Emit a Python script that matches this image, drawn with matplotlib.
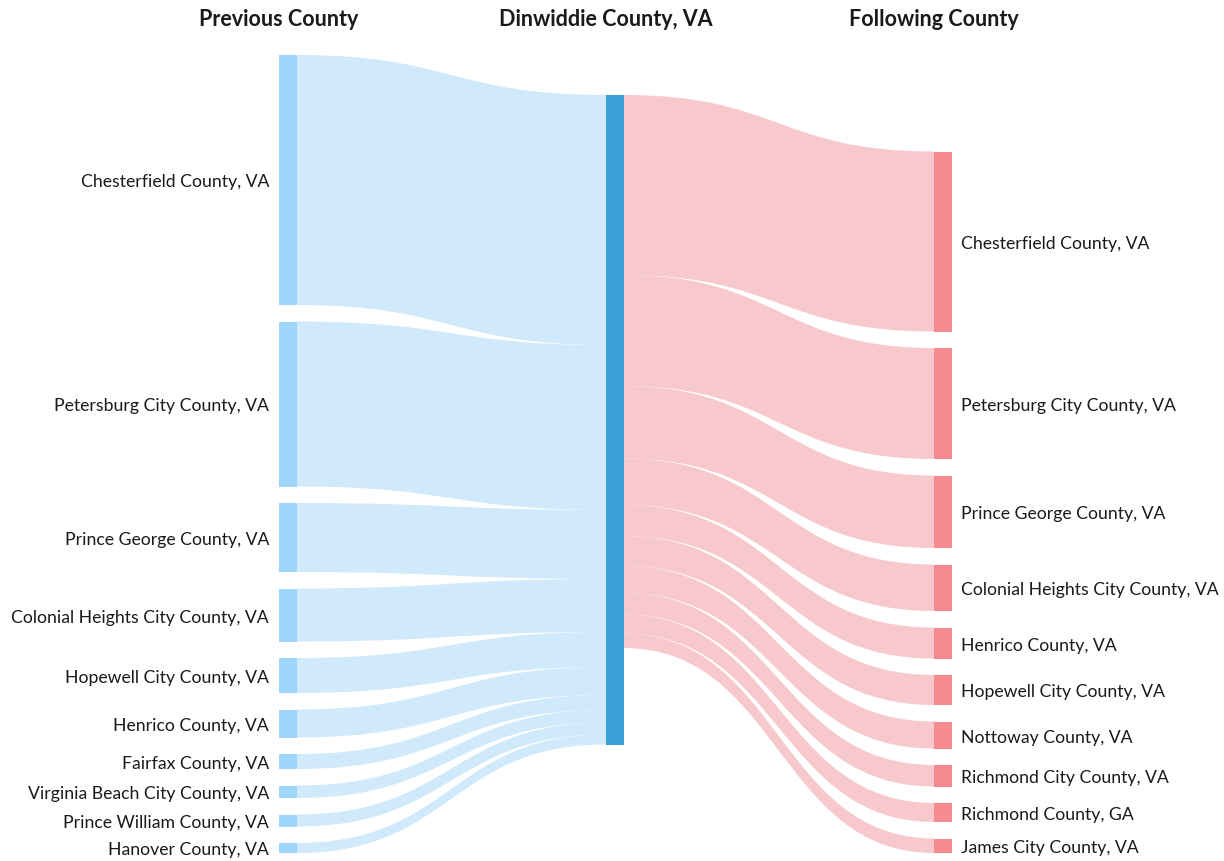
import matplotlib
matplotlib.use("Agg")
import matplotlib.pyplot as plt
from matplotlib.path import Path
from matplotlib.patches import PathPatch, Rectangle

# ---------------- data ----------------
titles = ["Previous County", "Dinwiddie County, VA", "Following County"]
prev_counties = ["Chesterfield County, VA", "Petersburg City County, VA",
                 "Prince George County, VA", "Colonial Heights City County, VA",
                 "Hopewell City County, VA", "Henrico County, VA",
                 "Fairfax County, VA", "Virginia Beach City County, VA",
                 "Prince William County, VA", "Hanover County, VA"]
prev_values = [250, 165, 69, 53, 35, 28, 15, 12.5, 12, 10]

next_counties = ["Chesterfield County, VA", "Petersburg City County, VA",
                 "Prince George County, VA", "Colonial Heights City County, VA",
                 "Henrico County, VA", "Hopewell City County, VA",
                 "Nottoway County, VA", "Richmond City County, VA",
                 "Richmond County, GA", "James City County, VA"]
next_values = [180, 111, 72.5, 46.5, 31, 30, 27, 21.5, 19, 14.5]

# ---------------- style / layout ----------------
W, H = 1224, 861
plt.rcParams['font.family'] = ['Lato', 'DejaVu Sans']
col_left_node = "#9ed5fb"
col_left_flow = "#d1eafb"
col_center = "#3a9fd4"
col_right_flow = "#f7c9cc"
col_right_node = "#f58b90"

x_left, x_center, x_right = 279, 606, 934
node_w = 17.5
y_top, y_bot = 55, 853
pad = 16.5
center_top = 95
k = 1.0  # px per unit

fig = plt.figure(figsize=(W / 100, H / 100), dpi=100)
ax = fig.add_axes([0, 0, 1, 1])
ax.set_xlim(0, W)
ax.set_ylim(H, 0)
ax.axis("off")


def band(x0, a0, a1, x1, b0, b1, color):
    xm = (x0 + x1) / 2
    verts = [(x0, a0), (xm, a0), (xm, b0), (x1, b0),
             (x1, b1), (xm, b1), (xm, a1), (x0, a1), (x0, a0)]
    codes = [Path.MOVETO, Path.CURVE4, Path.CURVE4, Path.CURVE4,
             Path.LINETO, Path.CURVE4, Path.CURVE4, Path.CURVE4, Path.CLOSEPOLY]
    ax.add_patch(PathPatch(Path(verts, codes), facecolor=color,
                           edgecolor="none", lw=0))


# left column (stacked from top)
left_pos = []
y = y_top
for v in prev_values:
    h = v * k
    left_pos.append((y, y + h))
    y += h + pad

# right column (stacked from bottom)
tot_r = sum(next_values) * k + pad * (len(next_values) - 1)
right_pos = []
y = y_bot - tot_r
for v in next_values:
    h = v * k
    right_pos.append((y, y + h))
    y += h + pad

# flows left -> center
cy = center_top
for (a0, a1), v in zip(left_pos, prev_values):
    h = v * k
    band(x_left + node_w + 0.5, a0, a1, x_center, cy, cy + h, col_left_flow)
    cy += h

# flows center -> right
cy = center_top
for (b0, b1), v in zip(right_pos, next_values):
    h = v * k
    band(x_center + node_w, cy, cy + h, x_right, b0, b1, col_right_flow)
    cy += h

label_fs = 12.7
label_dy = 2.5

# nodes
for (a0, a1), name in zip(left_pos, prev_counties):
    ax.add_patch(Rectangle((x_left, a0), node_w, a1 - a0, facecolor=col_left_node, lw=0))
    ax.text(x_left - 10, (a0 + a1) / 2 + label_dy, name, ha="right", va="center",
            fontsize=label_fs, color="#1a1a1a")

center_h = max(sum(prev_values), sum(next_values)) * k
ax.add_patch(Rectangle((x_center, center_top), node_w, center_h, facecolor=col_center, lw=0))

for (b0, b1), name in zip(right_pos, next_counties):
    ax.add_patch(Rectangle((x_right, b0), node_w, b1 - b0, facecolor=col_right_node, lw=0))
    ax.text(x_right + node_w + 9.5, (b0 + b1) / 2 + label_dy, name, ha="left", va="center",
            fontsize=label_fs, color="#1a1a1a")

# titles
for xt, t in zip([x_left, x_center, x_right], titles):
    ax.text(xt, 19, t, ha="center", va="center", fontsize=15.5,
            fontweight="bold", color="#1a1a1a")

fig.savefig("out.png", dpi=100, facecolor="white")
